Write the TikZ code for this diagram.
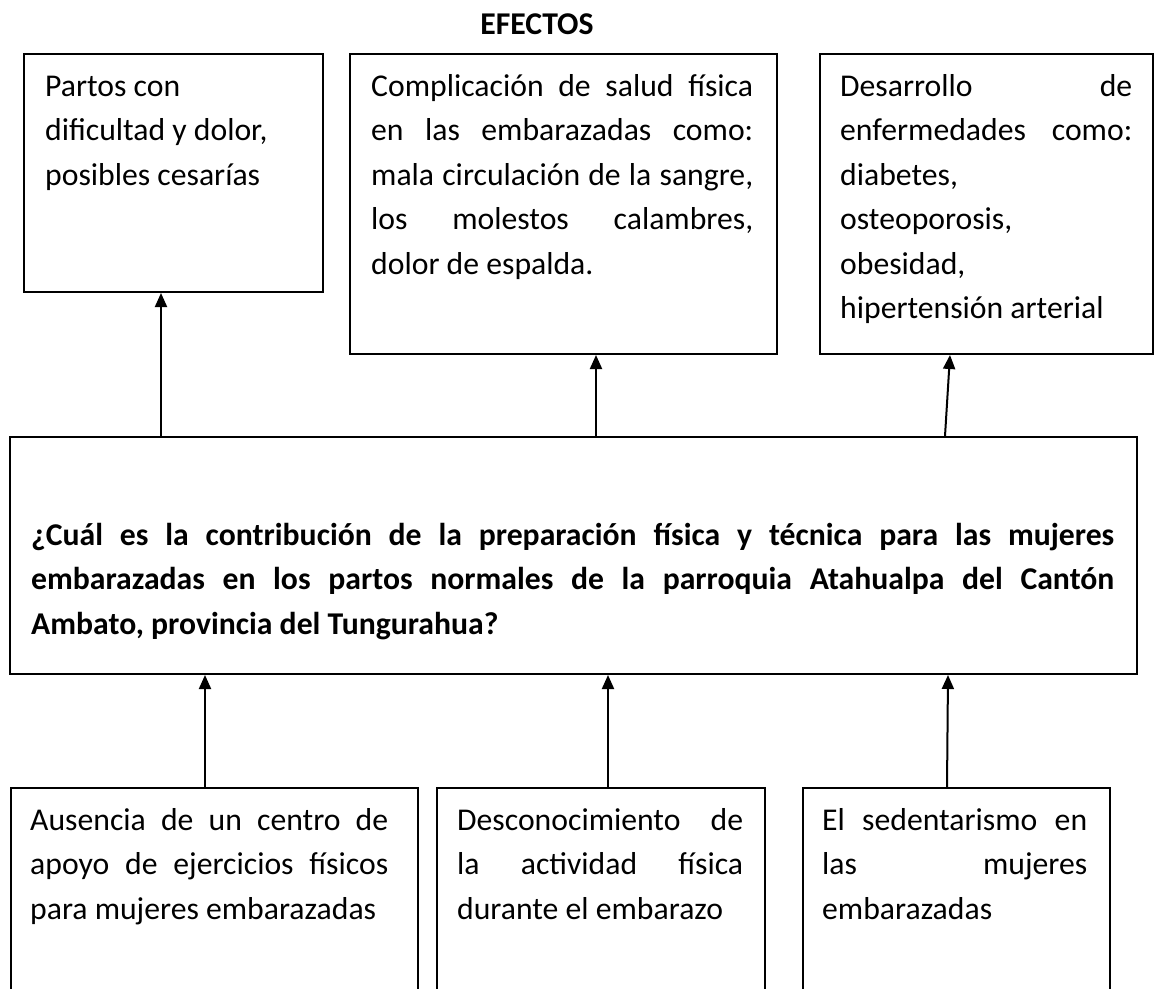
\documentclass[tikz,border=0pt]{standalone}
\usepackage{fontspec}
\setmainfont{Carlito}
\usetikzlibrary{arrows.meta,calc}
\newcommand\jl[1]{\makebox[\hsize][s]{\spaceskip=0.2264em plus 1fil\relax #1}}
\begin{document}
\begin{tikzpicture}[x=1pt,y=-1pt,
  box/.style={draw, line width=2pt, inner sep=0pt, anchor=north west},
  txt/.style={inner sep=0pt, anchor=north west, align=left, font=\fontsize{31.7}{44.5}\selectfont,
    execute at begin node={\spaceskip=0pt\xspaceskip=0pt\relax}},
  btxt/.style={txt, font=\fontsize{31.7}{44.5}\selectfont\bfseries},
  arr/.style={line width=2pt, -{Triangle[width=12pt,length=14pt]}}]
\useasboundingbox (0,0) rectangle (1154,988);
% title
\node[inner sep=0pt, anchor=base, font=\fontsize{31.7}{44.5}\selectfont\bfseries] (title) at (537,34) {EFECTOS};
% effect boxes
\node[box, minimum width=299, minimum height=238] (e1) at (23,53) {};
\node[box, minimum width=427, minimum height=300] (e2) at (349,53) {};
\node[box, minimum width=333, minimum height=300] (e3) at (819,53) {};
% problem box
\node[box, minimum width=1127, minimum height=237] (p) at (9,436) {};
% cause boxes (cut by the page bottom)
\node[box, minimum width=407, minimum height=230] (c1) at (10,787) {};
\node[box, minimum width=328, minimum height=230] (c2) at (436,787) {};
\node[box, minimum width=307, minimum height=230] (c3) at (802,787) {};
% texts
\node[txt, text width=255] (te1) at (45,64.85) {\strut Partos con\\ dificultad y dolor,\\ posibles cesarías};
\node[txt, text width=382] (te2) at (371,64.85) {\strut\jl{Complicación de salud física}\\ \jl{en las embarazadas como:}\\ \jl{mala circulación de la sangre,}\\ \jl{los molestos calambres,}\\ dolor de espalda.};
\node[txt, text width=292] (te3) at (840,64.85) {\strut\jl{Desarrollo de}\\ \jl{enfermedades como:}\\ diabetes,\\ osteoporosis,\\ obesidad,\\ hipertensión arterial};
\node[btxt, text width=1083] (tp) at (31,513.85) {\strut\jl{¿Cuál es la contribución de la preparación física y técnica para las mujeres}\\ \jl{embarazadas en los partos normales de la parroquia Atahualpa del Cantón}\\ Ambato, provincia del Tungurahua?};
\node[txt, text width=358] (tc1) at (30,798.85) {\strut\jl{Ausencia de un centro de}\\ \jl{apoyo de ejercicios físicos}\\ para mujeres embarazadas};
\node[txt, text width=286] (tc2) at (457,798.85) {\strut\jl{Desconocimiento de}\\ \jl{la actividad física}\\ durante el embarazo};
\node[txt, text width=265] (tc3) at (822,798.85) {\strut\jl{El sedentarismo en}\\ \jl{las mujeres}\\ embarazadas};
% arrows problem -> effects
\draw[arr] ($(p.north west)+(152,0)$) -- ($(e1.south west)+(138,0)$);
\draw[arr] ($(p.north west)+(587,0)$) -- ($(e2.south west)+(247,0)$);
\draw[arr] ($(p.north west)+(936,0)$) -- ($(e3.south west)+(131,0)$);
% arrows causes -> problem
\draw[arr] ($(c1.north west)+(195,0)$) -- ($(p.south west)+(196,0)$);
\draw[arr] ($(c2.north west)+(172,0)$) -- ($(p.south west)+(599,0)$);
\draw[arr] ($(c3.north west)+(145,0)$) -- ($(p.south west)+(939,0)$);
\end{tikzpicture}
\end{document}
